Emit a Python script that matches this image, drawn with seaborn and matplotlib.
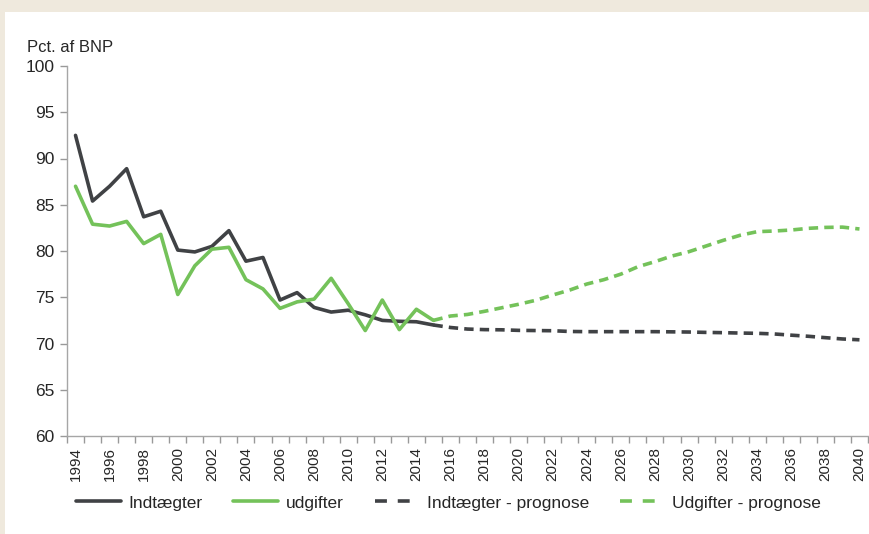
import matplotlib
matplotlib.use('Agg')
import matplotlib.pyplot as plt
import matplotlib.patches as mpatches
from matplotlib.lines import Line2D
from matplotlib.ticker import FixedLocator
import seaborn as sns
import numpy as np

# Data
# ------
aar_hist = list(range(1994, 2016))
indtaegter = [92.5, 85.4, 87.0, 88.9, 83.7, 84.3, 80.1, 79.9, 80.5, 82.2, 78.9,
              79.3, 74.7, 75.5, 73.9, 73.4, 73.6, 73.1, 72.5, 72.4, 72.35, 72.0]
udgifter = [87.0, 82.9, 82.7, 83.2, 80.8, 81.8, 75.3, 78.4, 80.2, 80.4, 76.9,
            75.9, 73.8, 74.5, 74.8, 77.05, 74.3, 71.4, 74.7, 71.5, 73.7, 72.5]

aar_prog = list(range(2015, 2041))
indtaegter_prog = [72.0, 71.73, 71.56, 71.5, 71.48, 71.42, 71.4, 71.38, 71.3,
                   71.28, 71.28, 71.28, 71.28, 71.28, 71.26, 71.24, 71.2, 71.17,
                   71.13, 71.1, 71.03, 70.9, 70.78, 70.63, 70.49, 70.4]
udgifter_prog = [72.5, 72.97, 73.14, 73.48, 73.86, 74.24, 74.67, 75.24, 75.78,
                 76.43, 76.9, 77.5, 78.3, 78.85, 79.46, 79.93, 80.54, 81.15,
                 81.7, 82.09, 82.16, 82.27, 82.45, 82.55, 82.58, 82.38]

labels = ['Indtægter', 'udgifter', 'Indtægter - prognose', 'Udgifter - prognose']
sort_farve = '#404245'
groen_farve = '#74c25a'

sns.set_style('white')
plt.rcParams['font.family'] = ['Liberation Sans', 'DejaVu Sans']

fig = plt.figure(figsize=(8.7, 5.34), dpi=100, facecolor='#efe9dd')
# hvid baggrund bag grafen
hvid = mpatches.Rectangle((5 / 870, 0), 1, 1 - 12 / 534, transform=fig.transFigure,
                          facecolor='white', edgecolor='none', zorder=-10)
fig.patches.append(hvid)

ax = fig.add_axes([67 / 870, 1 - 436 / 534, (868 - 67) / 870, (436 - 66) / 534])
ax.set_facecolor('none')
ax.set_zorder(1)

lw = 2.6
dash = (0, (2.6, 1.7))
sns.lineplot(x=aar_hist, y=indtaegter, ax=ax, color=sort_farve, linewidth=lw)
sns.lineplot(x=aar_hist, y=udgifter, ax=ax, color=groen_farve, linewidth=lw)
sns.lineplot(x=aar_prog, y=indtaegter_prog, ax=ax, color=sort_farve, linewidth=lw,
             linestyle=dash)
sns.lineplot(x=aar_prog, y=udgifter_prog, ax=ax, color=groen_farve, linewidth=lw,
             linestyle=dash)

# akser
ax.set_xlim(1993.5, 2040.5)
ax.set_ylim(60, 100)
ax.set_yticks(np.arange(60, 101, 5))
ax.set_xticks(list(range(1994, 2041, 2)))
ax.set_xticklabels([str(a) for a in range(1994, 2041, 2)], rotation=90, fontsize=11)
ax.xaxis.set_minor_locator(FixedLocator(np.arange(1993.5, 2041, 1.0)))
ax.tick_params(axis='x', which='major', length=0, pad=8)
ax.tick_params(axis='x', which='minor', length=5, color='#999999', width=1, bottom=True)
ax.tick_params(axis='y', length=5, color='#999999', width=1, labelsize=12.5, pad=4, left=True)
for s in ['top', 'right']:
    ax.spines[s].set_visible(False)
for s in ['left', 'bottom']:
    ax.spines[s].set_color('#a6a6a6')
    ax.spines[s].set_linewidth(1)
ax.set_xlabel('')
ax.set_ylabel('')

fig.text(27 / 870, 1 - 47 / 534, 'Pct. af BNP', fontsize=12, va='center', ha='left')

# legende
leg_dash = (0, (3.3, 3.0))
handles = [
    Line2D([], [], color=sort_farve, linewidth=lw),
    Line2D([], [], color=groen_farve, linewidth=lw),
    Line2D([], [], color=sort_farve, linewidth=lw, linestyle=leg_dash),
    Line2D([], [], color=groen_farve, linewidth=lw, linestyle=leg_dash),
]
fig.legend(handles, labels, loc='center', bbox_to_anchor=(0.5155, 1 - 503 / 534), ncol=4,
           frameon=False, handlelength=2.6, handletextpad=0.4, columnspacing=1.8,
           fontsize=12.5)

fig.savefig('out.png', dpi=100, facecolor=fig.get_facecolor())
